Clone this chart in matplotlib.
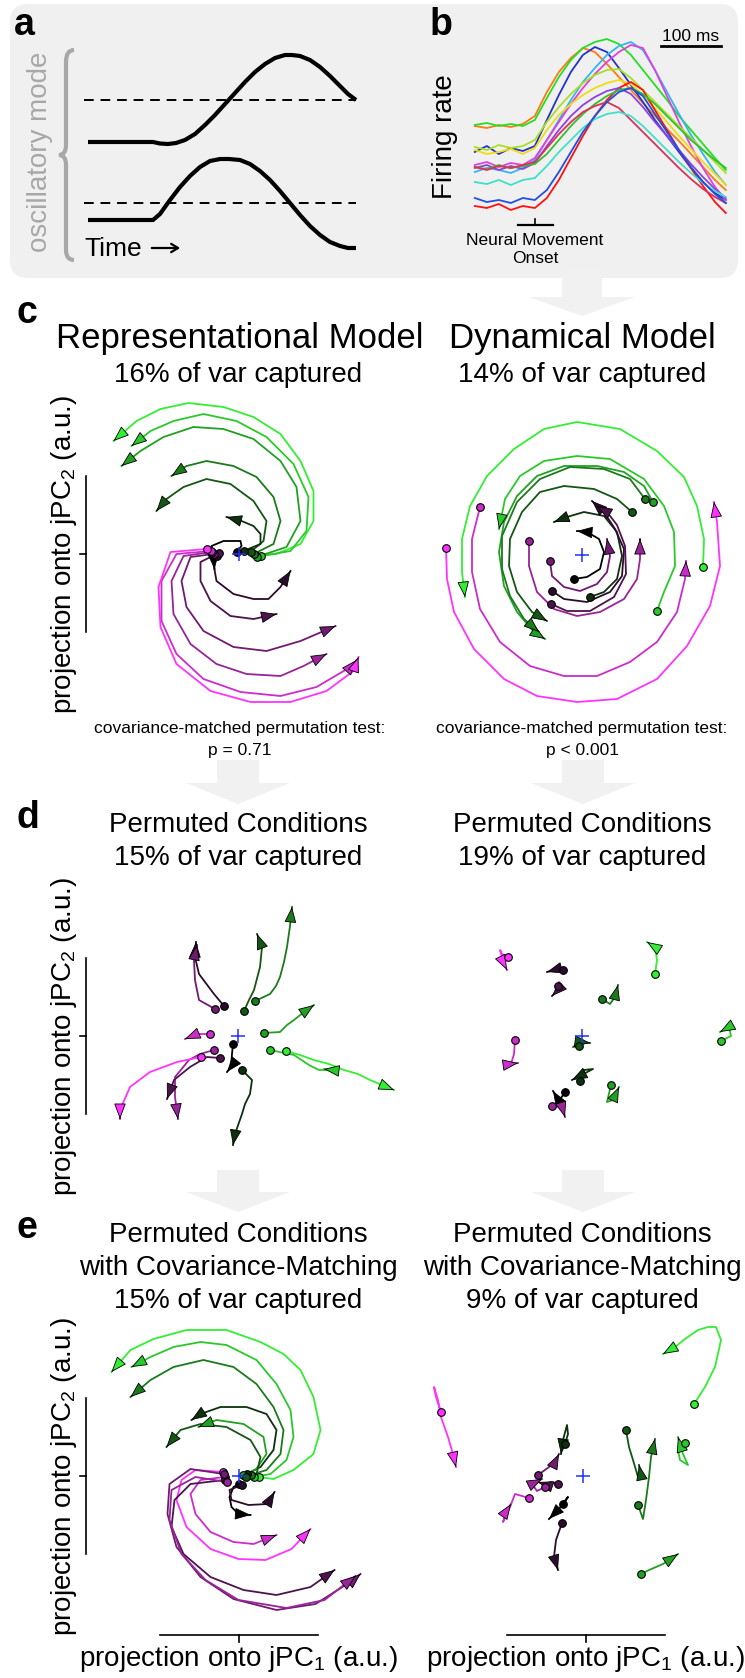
import numpy as np
import matplotlib
matplotlib.use("Agg")
import matplotlib.pyplot as plt
from matplotlib.patches import FancyBboxPatch, Polygon, FancyArrowPatch, PathPatch
from matplotlib.path import Path

plt.rcParams["font.family"] = ["Liberation Sans", "DejaVu Sans"]
plt.rcParams["mathtext.default"] = "regular"

W, H = 745, 1678
BOX_GRAY = "#f0f0f0"
ARROW_GRAY = "#f1f1f1"

# ---------------- panel a: schematic oscillatory mode ----------------
A_TIME_UP = [0, 6.5, 7.2, 8.0, 8.8, 9.7, 10.7, 11.7, 12.7, 13.7, 14.7, 15.7, 16.7, 17.7,
             18.7, 19.7, 20.4, 21.2, 22.2, 23.2, 24.2, 25.2, 26.0, 26.8]
A_UPPER = [11.8, 11.8, 11.65, 11.6, 11.7, 12.0, 12.6, 13.5, 14.5, 15.6, 16.7, 17.8, 18.8, 19.6,
           20.2, 20.5, 20.5, 20.4, 20.0, 19.3, 18.4, 17.4, 16.6, 16.0]
A_TIME_LO = [0, 6.5, 7.2, 8.2, 9.2, 10.2, 11.2, 12.2, 13.2, 14.1, 15.2, 16.2, 17.2, 18.2,
             19.2, 20.2, 21.2, 22.2, 23.2, 24.2, 25.2, 26.0, 26.8]
A_LOWER = [4.0, 4.0, 4.6, 6.0, 7.3, 8.4, 9.3, 9.9, 10.1, 10.1, 10.0, 9.6, 8.9, 8.0,
           6.9, 5.7, 4.5, 3.4, 2.5, 1.8, 1.4, 1.2, 1.2]
A_MID_UP, A_MID_LO = 16.0, 5.7

# ---------------- panel b: firing rates around movement onset ----------------
B_TIME = [-100, -80, -60, -40, -20, 0, 20, 40, 60, 80, 100, 120, 140, 160, 180, 200,
          220, 240, 260, 280, 300, 318]
B_TRACES = [
    [94, 92, 95, 93, 96, 104, 128, 148, 162, 172, 168, 156, 143, 130, 117, 104, 91, 79, 66, 53, 40, 30],
    [95, 97, 94, 96, 94, 100, 122, 143, 160, 172, 178, 181, 176, 165, 150, 135, 120, 104, 90, 76, 62, 50],
    [68, 74, 66, 72, 69, 74, 100, 125, 148, 165, 173, 168, 152, 135, 118, 100, 84, 68, 52, 38, 27, 20],
    [48, 52, 50, 47, 52, 60, 80, 100, 120, 138, 152, 165, 174, 178, 170, 150, 128, 106, 85, 66, 48, 35],
    [55, 58, 53, 57, 55, 62, 80, 98, 116, 132, 146, 158, 168, 175, 172, 150, 124, 98, 74, 52, 33, 20],
    [73, 70, 75, 72, 74, 80, 98, 113, 126, 137, 145, 150, 151, 142, 130, 118, 106, 94, 82, 70, 58, 47],
    [70, 66, 68, 71, 66, 72, 90, 105, 116, 125, 132, 137, 140, 136, 125, 112, 98, 84, 71, 58, 46, 35],
    [14, 12, 16, 10, 14, 12, 22, 40, 62, 84, 104, 120, 132, 138, 130, 110, 90, 70, 52, 34, 18, 7],
    [52, 55, 50, 54, 51, 57, 74, 90, 104, 115, 123, 129, 132, 126, 113, 98, 84, 70, 56, 43, 31, 22],
    [53, 51, 55, 52, 54, 56, 66, 80, 94, 106, 116, 124, 130, 132, 126, 116, 104, 92, 80, 70, 60, 52],
    [53, 50, 54, 52, 55, 58, 72, 86, 98, 108, 114, 118, 112, 100, 88, 76, 64, 52, 41, 31, 23, 17],
    [38, 36, 40, 35, 40, 42, 54, 68, 80, 92, 101, 106, 108, 104, 94, 82, 70, 58, 47, 37, 29, 23],
    [22, 18, 20, 17, 22, 20, 30, 48, 68, 88, 104, 118, 128, 132, 124, 106, 88, 70, 53, 38, 26, 17],
]
B_COLORS = ["#ff7a10", "#22e022", "#2233cc", "#33b5f0", "#e040e0", "#a8e020", "#f0dc10",
            "#ff1010", "#9040e0", "#30c030", "#e0305a", "#40e0c8", "#2050e0"]

# ---------------- jPCA trajectories (a.u.; start -> end) ----------------
COND_COLORS = ["#33ee33", "#2bc82b", "#22a022", "#1b7a1b", "#145614", "#0d300d", "#000000",
               "#2c0c2c", "#4c134c", "#701b70", "#992399", "#cc2ccc", "#ff33ff"]

C_LEFT_SHADES = [0, 1, 2, 3, 4, 5, 6, 7, 8, 9, 10, 11, 12]
C_LEFT_PATHS = [
    [(1.8, -0.2), (3.8, 0), (6.2, 1.0), (7.5, 3.3), (7.5, 6.3), (6.2, 9.3), (4.2, 12.0), (1.5, 13.7),
     (-1.5, 14.7), (-5.0, 15.1), (-7.8, 14.5), (-10.2, 13.3), (-12.5, 11.3)],
    [(2.2, -0.2), (5.2, 0.3), (6.8, 2.3), (7.0, 5.7), (5.5, 9.0), (2.8, 11.7), (-0.2, 13.3), (-3.5, 14.0),
     (-6.5, 13.3), (-8.8, 12.3), (-10.7, 10.8)],
    [(1.8, -0.3), (4.8, 0.7), (6.2, 3.3), (5.8, 6.7), (4.2, 9.3), (1.5, 11.5), (-1.5, 12.5), (-4.5, 12.7),
     (-7.5, 11.7), (-9.8, 10.3), (-11.7, 8.8)],
    [(1.5, 0), (3.5, 1.0), (4.2, 3.3), (3.5, 5.7), (1.8, 7.7), (-0.5, 8.8), (-3.2, 9.3), (-5.2, 8.8), (-6.7, 7.8)],
    [(1.2, 0.2), (2.5, 1.3), (2.8, 3.3), (1.5, 5.3), (-0.8, 7.0), (-3.2, 7.5), (-5.5, 6.7), (-7.2, 5.5), (-8.2, 4.3)],
    [(0.5, 0.3), (2.2, 1.0), (2.2, 2.0), (1.5, 2.8), (0.3, 3.3), (-1.2, 3.7)],
    [(-0.2, 0.2), (0.3, 0.8), (0.2, 1.3), (-1.5, 1.3), (-2.7, 0.8), (-2.5, -0.3), (-2.4, -1.5)],
    [(-2.2, -0.2), (-2.5, -1.0), (-2.2, -2.7), (-0.5, -4.0), (1.5, -4.5), (3.0, -4.5), (4.2, -3.3), (5.2, -1.7)],
    [(-2.0, 0.1), (-3.8, -0.8), (-3.8, -2.7), (-2.8, -4.7), (-0.8, -6.2), (1.5, -6.5), (3.8, -6.0)],
    [(-2.5, 0), (-4.8, -0.3), (-5.7, -2.7), (-5.2, -5.3), (-3.5, -7.7), (-0.5, -9.3), (2.8, -9.7), (6.2, -8.7), (9.7, -7.2)],
    [(-2.7, 0.2), (-5.5, -0.2), (-6.7, -2.7), (-6.5, -6.0), (-4.8, -9.0), (-2.2, -11.0), (0.8, -12.0), (4.2, -12.2),
     (6.5, -11.2), (8.8, -10.0)],
    [(-2.8, 0.3), (-6.2, 0), (-7.7, -2.7), (-7.7, -6.7), (-6.2, -10.0), (-3.5, -12.5), (0.2, -13.8), (4.2, -14.2),
     (7.8, -13.3), (11.2, -11.3), (11.8, -10.6)],
    [(-3.2, 0.5), (-6.8, 0.2), (-8.0, -3.3), (-7.8, -7.3), (-6.2, -11.0), (-2.8, -13.7), (1.2, -14.8), (5.2, -14.8),
     (8.8, -13.7), (11.5, -11.7), (12.0, -10.3)],
]

C_RIGHT_SHADES = [0, 1, 2, 3, 4, 5, 6, 7, 8, 9, 10, 11, 12]
C_RIGHT_PATHS = [
    [(12.1, -1.2), (12.2, 1.6), (11.5, 4.9), (10.2, 7.8), (7.5, 10.4), (3.8, 12.6), (-0.5, 13.3), (-3.8, 12.6),
     (-6.8, 10.6), (-9.5, 7.9), (-11.2, 4.9), (-12.0, 1.6), (-12.0, -1.7), (-11.7, -4.2)],
    [(7.5, -5.6), (8.2, -3.7), (9.3, -1.1), (9.2, 2.3), (8.2, 4.9), (6.2, 7.6), (2.8, 9.6), (-0.5, 9.9),
     (-3.8, 9.4), (-6.2, 7.9), (-7.7, 5.6), (-8.3, 2.6)],
    [(7.1, 5.3), (6.2, 6.9), (4.2, 8.3), (1.5, 8.9), (-1.8, 8.9), (-4.5, 7.9), (-6.5, 5.9), (-7.8, 3.3),
     (-8.3, 0.3), (-7.8, -3.1), (-6.5, -5.7), (-4.8, -7.7), (-3.7, -8.4)],
    [(6.3, 5.6), (4.8, 7.6), (2.2, 8.6), (-1.2, 8.8), (-4.2, 7.6), (-6.5, 5.3), (-8.0, 1.9), (-8.0, -1.4),
     (-7.2, -4.1), (-5.8, -6.4), (-4.3, -7.7)],
    [(5.0, 4.3), (3.5, 5.6), (1.2, 6.6), (-1.8, 6.9), (-4.2, 6.3), (-6.0, 4.3), (-7.2, 1.6), (-7.3, -1.1),
     (-6.5, -3.7), (-5.0, -5.7), (-3.5, -6.6)],
    [(0.8, -4.2), (2.2, -3.7), (3.5, -2.4), (4.0, -0.1), (3.5, 2.3), (2.2, 3.9), (0.2, 4.3), (-1.5, 3.8), (-2.8, 3.3)],
    [(-0.8, -2.4), (0.5, -2.2), (1.8, -1.4), (2.2, 0.3), (1.7, 1.6), (0.5, 2.3), (-0.5, 2.4)],
    [(-3.0, -3.6), (-1.8, -4.4), (0.5, -4.7), (2.8, -3.7), (4.0, -2.1), (4.2, 0.6), (3.3, 2.6), (2.2, 4.3), (1.0, 5.4)],
    [(-3.1, -4.9), (-1.5, -5.6), (0.8, -5.6), (3.2, -4.2), (4.4, -1.9), (4.3, 0.9), (3.5, 3.0), (2.5, 4.3), (1.5, 4.9)],
    [(-3.2, -0.6), (-3.0, -2.1), (-1.8, -3.2), (-0.2, -3.6), (1.5, -2.9), (2.5, -1.7), (2.8, -0.1), (2.5, 1.6)],
    [(-5.3, 1.4), (-5.3, -1.1), (-4.5, -3.7), (-2.8, -5.4), (-0.5, -6.1), (1.8, -5.7), (4.2, -4.4), (5.5, -2.4),
     (5.8, -0.4), (5.8, 1.6)],
    [(-10.2, 4.8), (-11.0, 1.6), (-11.0, -1.7), (-10.2, -5.4), (-8.2, -8.7), (-5.2, -11.1), (-1.8, -12.1),
     (1.5, -12.1), (4.8, -10.7), (7.5, -8.7), (9.5, -5.7), (10.3, -2.4), (10.4, -0.6)],
    [(-13.6, 0.7), (-13.5, -2.4), (-12.8, -5.7), (-10.8, -9.4), (-7.8, -12.4), (-4.5, -14.1), (-0.5, -14.7),
     (3.5, -14.4), (7.5, -12.4), (10.5, -9.1), (12.8, -5.1), (13.8, -1.1), (13.5, 3.3), (13.2, 5.3)],
]

D_LEFT_SHADES = [0, 1, 2, 3, 4, 5, 6, 7, 9, 11, 10, 8, 12]
D_LEFT_PATHS = [
    [(4.8, -1.5), (6.2, -1.9), (7.6, -2.4), (9.1, -2.8), (10.6, -3.4), (12.0, -3.8), (13.2, -4.4), (15.6, -5.4)],
    [(3.2, -1.4), (5.6, -1.9), (7.1, -2.9), (8.1, -3.4), (9.4, -3.4), (8.6, -3.3)],
    [(2.6, 0.3), (4.2, 0.4), (4.9, 1.1), (5.6, 1.6), (6.6, 2.4), (7.6, 3.1)],
    [(1.7, 3.5), (3.2, 4.2), (3.8, 5.0), (4.2, 5.9), (4.6, 7.4), (4.9, 8.9), (5.2, 11.0), (5.4, 12.9)],
    [(0.6, 2.5), (1.1, 3.6), (1.6, 4.6), (2.2, 6.9), (2.3, 7.9), (2.4, 8.9), (1.9, 10.2)],
    [(0.4, -3.4), (1.4, -4.4), (1.2, -5.8), (0.7, -6.8), (0.4, -7.8), (-0.3, -9.8), (-0.5, -10.9)],
    [(-0.5, -0.8), (-0.6, -1.8), (-0.7, -3.1), (-1.1, -3.6)],
    [(-1.4, 3.0), (-2.4, 4.2), (-3.9, 6.2), (-4.3, 7.9), (-4.2, 9.4)],
    [(-2.3, 2.7), (-3.9, 3.6), (-4.3, 5.6), (-4.4, 7.6), (-4.1, 9.1)],
    [(-2.8, 0.2), (-4.1, 0.2), (-5.3, -0.3)],
    [(-2.4, -1.4), (-3.8, -1.8), (-4.9, -2.4), (-6.3, -4.1), (-6.3, -6.1), (-6.0, -8.3)],
    [(-1.8, -2.2), (-3.1, -2.1), (-4.8, -3.1), (-6.4, -4.4), (-7.1, -6.3)],
    [(-3.7, -2.1), (-6.1, -2.6), (-8.8, -3.6), (-10.8, -5.1), (-11.8, -7.4), (-11.8, -8.3)],
]

D_RIGHT_SHADES = [12, 11, 7, 8, 0, 3, 1, 4, 5, 2, 6, 10]
D_RIGHT_PATHS = [
    [(-7.4, 7.9), (-8.0, 8.2), (-8.2, 8.6), (-7.8, 7.2), (-7.5, 6.6)],
    [(-6.7, -0.4), (-6.8, -1.8), (-7.1, -2.8), (-6.4, -2.7)],
    [(-1.9, 6.6), (-2.8, 6.6), (-3.5, 6.4)],
    [(-2.4, 5.0), (-2.6, 4.4), (-3.0, 4.0)],
    [(7.3, 6.2), (7.5, 7.6), (7.3, 8.9), (6.5, 9.4)],
    [(2.0, 3.7), (2.8, 3.2), (3.3, 3.9), (3.6, 5.1)],
    [(13.9, -0.5), (14.9, 0), (14.7, 0.9), (13.8, 0.4)],
    [(-0.3, -1.0), (-0.9, -1.1), (0, -0.6), (0.8, -0.7)],
    [(-0.2, -4.5), (0.2, -3.4), (1.1, -3.3), (-1.0, -4.4)],
    [(2.9, -4.9), (2.5, -6.6), (3.1, -6.4), (3.7, -5.1)],
    [(-1.7, -5.6), (-2.3, -6.5), (-2.9, -5.5)],
    [(-3.0, -7.0), (-2.0, -7.1), (-1.7, -8.1)],
]

E_LEFT_SHADES = [0, 1, 3, 5, 2, 4, 6, 7, 11, 12, 8, 9, 10]
E_LEFT_PATHS = [
    [(2.0, -0.1), (3.5, -0.3), (5.5, 0.6), (7.5, 2.2), (8.2, 4.6), (7.5, 7.9), (6.2, 10.6), (4.5, 12.2),
     (2.2, 13.4), (-1.2, 14.6), (-5.2, 14.6), (-8.5, 13.7), (-10.8, 12.6), (-12.7, 10.4)],
    [(1.5, -0.1), (3.2, 0.2), (4.8, 1.6), (5.5, 3.9), (5.2, 6.6), (3.8, 9.2), (1.8, 11.6), (-1.2, 13.1),
     (-3.8, 13.4), (-6.5, 12.9), (-8.8, 11.9), (-10.7, 10.9)],
    [(1.2, 0.1), (2.8, 0.6), (4.2, 2.2), (4.5, 4.6), (3.5, 6.9), (1.8, 9.2), (-0.5, 10.9), (-3.5, 11.6),
     (-6.5, 10.9), (-8.8, 9.6), (-10.8, 7.9)],
    [(0.8, 0.2), (2.2, 0.9), (3.5, 2.6), (3.8, 4.6), (2.8, 6.2), (0.8, 6.9), (-1.8, 6.9), (-3.8, 6.2), (-4.7, 5.6)],
    [(0.4, 0.1), (1.7, 0.6), (2.8, 2.2), (2.5, 3.9), (0.5, 5.2), (-2.2, 5.6), (-4.0, 4.9)],
    [(0.7, -0.1), (1.8, 0.2), (2.2, 1.9), (1.2, 3.6), (-1.2, 4.9), (-3.8, 5.2), (-5.8, 4.6), (-7.2, 2.9)],
    [(0.0, -0.8), (-0.5, -1.1), (-0.9, -2.1), (-0.7, -3.1), (0.0, -3.8), (1.2, -3.9)],
    [(0.3, -0.9), (-0.9, -1.4), (-0.7, -2.4), (1.0, -2.9), (2.9, -2.8), (3.6, -1.6)],
    [(-1.4, -0.1), (-3.8, -0.4), (-4.8, -1.8), (-4.3, -3.8), (-2.8, -5.6), (-0.5, -6.6), (1.5, -6.8), (3.8, -5.9)],
    [(-1.6, 0.4), (-4.3, 0.6), (-5.7, -0.4), (-6.2, -2.4), (-5.2, -5.1), (-2.8, -7.3), (0, -8.3), (2.7, -8.4),
     (5.3, -7.3), (7.2, -5.3)],
    [(-1.4, -0.4), (-4.8, -0.8), (-6.4, -2.4), (-6.7, -5.1), (-5.5, -7.8), (-2.8, -10.1), (0.5, -11.4),
     (3.8, -11.9), (7.2, -11.1), (9.6, -9.4)],
    [(-1.5, 0.2), (-4.8, 0.7), (-6.9, -0.8), (-7.1, -3.8), (-6.2, -7.1), (-3.8, -10.1), (-0.5, -12.3),
     (3.8, -13.4), (7.7, -12.8), (11.5, -10.4), (12.2, -9.8)],
    [(-1.2, -0.6), (-4.3, -0.1), (-6.7, -1.4), (-6.9, -4.4), (-5.7, -7.8), (-3.3, -10.4), (0, -12.4),
     (4.8, -13.2), (8.6, -12.4), (11.7, -10.0)],
]

E_RIGHT_SHADES = [0, 12, 4, 3, 1, 11, 9, 10, 8, 6, 7, 5, 2]
E_RIGHT_PATHS = [
    [(11.1, 7.2), (12.2, 8.9), (13.2, 10.9), (13.8, 13.6), (13.3, 14.9), (12.5, 14.9), (11.5, 14.6),
     (10.2, 13.7), (9.2, 12.9), (8.0, 12.2)],
    [(-14.2, 6.4), (-14.7, 7.9), (-14.9, 8.9), (-14.5, 7.6), (-14.2, 5.9), (-13.5, 3.9), (-13.0, 2.2), (-12.7, 0.9)],
    [(4.3, 4.6), (4.6, 2.9), (5.0, 1.6), (5.5, -0.1), (5.7, 0.6), (5.6, 1.1)],
    [(5.5, -2.9), (6.0, -4.3), (6.3, -2.4), (6.6, -0.1), (6.8, 1.9), (7.2, 3.7)],
    [(10.2, 3.3), (9.5, 2.6), (9.7, 1.6), (10.5, 1.1), (10.0, 2.2), (9.5, 3.9)],
    [(-5.4, -2.2), (-6.8, -1.8), (-7.3, -3.1), (-8.0, -4.6), (-7.6, -3.4), (-7.2, -2.8)],
    [(-4.5, 0.1), (-3.4, 0.9), (-2.7, 1.6), (-2.4, 2.2)],
    [(-3.8, -1.1), (-4.6, -1.5), (-5.1, -0.8), (-4.1, -0.3)],
    [(-2.5, -0.8), (-3.2, -0.6), (-3.9, -0.8), (-4.5, -0.6)],
    [(-2.0, -2.8), (-1.5, -2.1), (-2.4, -3.3), (-2.9, -3.8), (-3.4, -4.3)],
    [(-2.1, -4.7), (-2.7, -6.4), (-2.9, -8.1), (-2.5, -9.4)],
    [(-1.8, 3.2), (-1.5, 4.2), (-1.6, 5.1), (-2.0, 3.6), (-2.2, 2.2)],
    [(5.8, -9.8), (6.6, -9.4), (8.0, -8.8), (9.5, -7.8)],
]

fig = plt.figure(figsize=(W / 100, H / 100), dpi=100)
ov = fig.add_axes([0, 0, 1, 1])
ov.set_xlim(0, W)
ov.set_ylim(H, 0)
ov.axis("off")


def px_axes(x0, y0, x1, y1, xlim, ylim):
    ax = fig.add_axes([x0 / W, 1 - y1 / H, (x1 - x0) / W, (y1 - y0) / H])
    ax.set_xlim(*xlim)
    ax.set_ylim(*ylim)
    ax.axis("off")
    ax.patch.set_alpha(0)
    return ax


def gray_arrow(cx, y_top, y_neck, y_tip, shaft=21, head=52):
    pts = [(cx - shaft, y_top), (cx + shaft, y_top), (cx + shaft, y_neck), (cx + head, y_neck),
           (cx, y_tip), (cx - head, y_neck), (cx - shaft, y_neck)]
    ov.add_patch(Polygon(pts, closed=True, fc=ARROW_GRAY, ec="none", zorder=0))


def jpca_panel(cx, cy, paths, shades):
    ax = px_axes(cx - 170, cy - 170, cx + 170, cy + 170, (-17, 17), (-17, 17))
    for path, s in zip(paths, shades):
        col = COND_COLORS[s]
        xy = np.asarray(path, dtype=float)
        ax.plot(xy[:, 0], xy[:, 1], color=col, lw=1.3, zorder=2, clip_on=False)
        d = xy[-1] - xy[-2]
        d = d / np.hypot(*d)
        ax.add_patch(FancyArrowPatch(xy[-1] - 0.05 * d, xy[-1],
                                     arrowstyle="-|>,head_length=0.95,head_width=0.36",
                                     mutation_scale=10.5, fc=col, ec="k", lw=0.6,
                                     shrinkA=0, shrinkB=0, zorder=3, clip_on=False))
    for path, s in zip(paths, shades):
        ax.plot(path[0][0], path[0][1], "o", ms=5.5, mfc=COND_COLORS[s], mec="k", mew=0.8,
                zorder=4, clip_on=False)
    ax.plot(0, 0, "+", color="#2030ff", ms=10, mew=1.1, zorder=5)
    return ax


# ---- background box and big gray arrows ----
ov.add_patch(FancyBboxPatch((10, 4), 728, 274, boxstyle="round,pad=0,rounding_size=18",
                            fc=BOX_GRAY, ec="none", zorder=0))
gray_arrow(582, 270, 297, 316, shaft=20, head=53)
for cx in (238, 583):
    gray_arrow(cx, 760, 783, 804)
    gray_arrow(cx, 1170, 1192, 1212)

# ---- panel letters ----
for lab, x, y in [("a", 14, 35), ("b", 430, 35), ("c", 16, 323), ("d", 16, 828), ("e", 16, 1238)]:
    ov.text(x, y, lab, fontsize=27, fontweight="bold", va="baseline", ha="left")

# ---- panel a ----
brace = Path([(74, 50), (66, 50), (66, 62), (66, 145), (66, 155), (59, 155), (66, 155), (66, 165),
              (66, 250), (66, 260), (74, 260)],
             [Path.MOVETO, Path.CURVE3, Path.CURVE3, Path.LINETO, Path.CURVE3, Path.CURVE3,
              Path.CURVE3, Path.CURVE3, Path.LINETO, Path.CURVE3, Path.CURVE3])
ov.add_patch(PathPatch(brace, fc="none", ec="#a8a8a8", lw=3))
ov.text(40, 152, "oscillatory mode", rotation=90, fontsize=20, color="#a8a8a8",
        ha="center", va="center")
axa = px_axes(88, 40, 356, 260, (0, 26.8), (0, 22))
axa.plot(A_TIME_UP, A_UPPER, color="k", lw=3, solid_capstyle="butt", clip_on=False)
axa.plot(A_TIME_LO, A_LOWER, color="k", lw=3, solid_capstyle="butt", clip_on=False)
for m in (A_MID_UP, A_MID_LO):
    axa.plot([-0.4, 26.8], [m, m], color="k", lw=1.4, ls=(0, (5, 3.5)), clip_on=False)
ov.text(84, 256, "Time", fontsize=19, va="baseline", ha="left")
ov.annotate("", xy=(183, 248), xytext=(149, 248),
            arrowprops=dict(arrowstyle="->,head_length=0.5,head_width=0.3", lw=1.6, color="k"))

# ---- panel b ----
axb = px_axes(473, 35, 727, 220, (-103, 320), (0, 185))
for tr, col in zip(B_TRACES, B_COLORS):
    axb.plot(B_TIME, tr, color=col, lw=1.3, clip_on=False)
ov.text(445, 137, "Firing rate", rotation=90, fontsize=20, ha="center", va="center")
ov.plot([661, 721], [46, 46], color="k", lw=2)
ov.text(691, 41, "100 ms", fontsize=12.5, ha="center", va="baseline")
ov.plot([518, 553], [225, 225], color="k", lw=1.6)
ov.plot([535, 535], [219, 225], color="k", lw=1.2)
ov.text(535, 245, "Neural Movement", fontsize=12.5, ha="center", va="baseline")
ov.text(535, 263, "Onset", fontsize=12.5, ha="center", va="baseline")

# ---- titles ----
ov.text(240, 348, "Representational Model", fontsize=25, ha="center", va="baseline")
ov.text(582, 348, "Dynamical Model", fontsize=25, ha="center", va="baseline")
ov.text(238, 382, "16% of var captured", fontsize=20, ha="center", va="baseline")
ov.text(582, 382, "14% of var captured", fontsize=20, ha="center", va="baseline")
for cx, p in ((240, "p = 0.71"), (582, "p < 0.001")):
    ov.text(cx, 733, "covariance-matched permutation test:", fontsize=12.5, ha="center", va="baseline")
    ov.text(cx, 755, p, fontsize=12.5, ha="center", va="baseline")
for cx, pct in ((238, "15%"), (582, "19%")):
    ov.text(cx, 832, "Permuted Conditions", fontsize=20, ha="center", va="baseline")
    ov.text(cx, 865, f"{pct} of var captured", fontsize=20, ha="center", va="baseline")
for cx, pct in ((238, "15%"), (582, "9%")):
    ov.text(cx, 1242, "Permuted Conditions", fontsize=20, ha="center", va="baseline")
    ov.text(cx, 1275, "with Covariance-Matching", fontsize=20, ha="center", va="baseline")
    ov.text(cx, 1308, f"{pct} of var captured", fontsize=20, ha="center", va="baseline")

# ---- jPCA planes ----
jpca_panel(238.5, 554, C_LEFT_PATHS, C_LEFT_SHADES)
jpca_panel(582, 555, C_RIGHT_PATHS, C_RIGHT_SHADES)
jpca_panel(238, 1036, D_LEFT_PATHS, D_LEFT_SHADES)
jpca_panel(582, 1036, D_RIGHT_PATHS, D_RIGHT_SHADES)
jpca_panel(238.5, 1476, E_LEFT_PATHS, E_LEFT_SHADES)
jpca_panel(583, 1476, E_RIGHT_PATHS, E_RIGHT_SHADES)

# ---- scale bars and axis labels ----
for cy in (554, 1036, 1476):
    ov.plot([86, 86], [cy - 78, cy + 78], color="k", lw=1.2)
    ov.plot([80, 86], [cy, cy], color="k", lw=1.2)
    ov.text(64, cy, "projection onto jPC$_2$ (a.u.)", rotation=90, fontsize=20,
            ha="center", va="center")
for cx in (239, 585.5):
    ov.plot([cx - 79, cx + 79], [1635, 1635], color="k", lw=1.2)
    ov.plot([cx, cx], [1635, 1642], color="k", lw=1.2)
    ov.text(cx, 1666, "projection onto jPC$_1$ (a.u.)", fontsize=20, ha="center", va="baseline")

fig.savefig("out.png", dpi=100)
